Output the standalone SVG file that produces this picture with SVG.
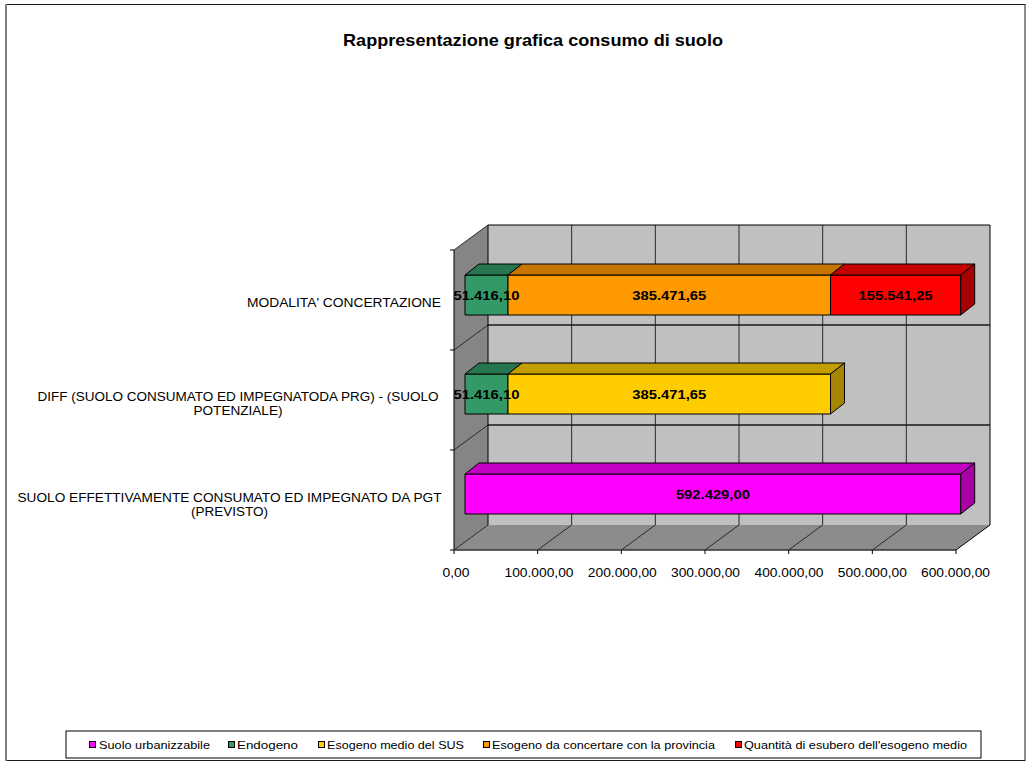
<svg xmlns="http://www.w3.org/2000/svg" width="1032" height="765" viewBox="0 0 1032 765">
<style>
  text { font-family: "Liberation Sans", Arial, sans-serif; fill: #000; }
  .title { font-size: 17px; font-weight: bold; }
  .cat { font-size: 12px; }
  .axis { font-size: 12px; text-anchor: middle; }
  .val { font-size: 13px; font-weight: bold; text-anchor: middle; }
  .leg { font-size: 11.5px; }
  .grid { stroke: #2a2a2a; stroke-width: 1; fill: none; }
  .catline { stroke: #1a1a1a; stroke-width: 1.6; fill: none; }
  .edge { stroke: #000; stroke-width: 1; fill: none; }
  .bar { stroke: #000; stroke-width: 1; stroke-linejoin: round; }
  .mk { stroke: #000; stroke-width: 1; }
</style>
<rect width="1032" height="765" fill="#fff"/>
<g id="frame">
  <rect x="6" y="4.5" width="1019" height="756" fill="#fff" stroke="#1a1a1a" stroke-width="1"/>
  <line x1="6" y1="4" x2="6" y2="761" stroke="#808080" stroke-width="2"/>
</g>
<text id="title" class="title" x="533" y="46" text-anchor="middle" textLength="380" lengthAdjust="spacingAndGlyphs">Rappresentazione grafica consumo di suolo</text>

<g id="walls">
  <rect x="488" y="225" width="502" height="300" fill="#c0c0c0"/>
  <polygon points="454,250 488,225 488,525 454,550" fill="#858585"/>
  <polygon points="454,550 488,525 990,525 956,550" fill="#8c8c8c"/>
</g>

<g id="connectors">
  <!-- back wall vertical gridlines -->
  <path class="grid" d="M571.67,225V525 M655.33,225V525 M739,225V525 M822.67,225V525 M906.33,225V525"/>
  <!-- floor gridlines -->
  <path class="grid" d="M537.67,550L571.67,525 M621.33,550L655.33,525 M705,550L739,525 M788.67,550L822.67,525 M872.33,550L906.33,525"/>
  <!-- category lines on back wall and side wall -->
  <path class="catline" d="M488,325H990 M488,425H990"/>
  <path class="grid" d="M454,350L488,325 M454,450L488,425 M454,250L488,225 M454,550L488,525"/>
  <!-- wall edges -->
  <path class="edge" d="M488,225H990V525 M454,250V550 M488,225V525"/>
  <path class="edge" d="M956,550L990,525"/>
  <path stroke="#333" stroke-width="1.5" fill="none" d="M454,550H956"/>
  <!-- ticks -->
  <path class="edge" d="M450,250H454 M450,350H454 M450,450H454 M450,550H454"/>
  <path class="edge" d="M454,550V554 M537.67,550V554 M621.33,550V554 M705,550V554 M788.67,550V554 M872.33,550V554 M956,550V554"/>
</g>

<g id="bar-modalita">
  <rect class="bar" x="465" y="275" width="43" height="40" fill="#339966"/>
  <polygon class="bar" points="465,275 508,275 522,264 479,264" fill="#277650"/>
  <rect class="bar" x="508" y="275" width="322.5" height="40" fill="#ff9900"/>
  <polygon class="bar" points="508,275 830.5,275 844.5,264 522,264" fill="#c47600"/>
  <rect class="bar" x="830.5" y="275" width="130.2" height="40" fill="#ff0000"/>
  <polygon class="bar" points="830.5,275 960.7,275 974.7,264 844.5,264" fill="#c40000"/>
  <polygon class="bar" points="960.7,275 974.7,264 974.7,304 960.7,315" fill="#a60000"/>
  <text class="val" x="486.5" y="299.6" textLength="66" lengthAdjust="spacingAndGlyphs">51.416,10</text>
  <text class="val" x="669.3" y="299.6" textLength="74" lengthAdjust="spacingAndGlyphs">385.471,65</text>
  <text class="val" x="895.6" y="299.6" textLength="74" lengthAdjust="spacingAndGlyphs">155.541,25</text>
</g>

<g id="bar-diff">
  <rect class="bar" x="465" y="374" width="43" height="40" fill="#339966"/>
  <polygon class="bar" points="465,374 508,374 522,363 479,363" fill="#277650"/>
  <rect class="bar" x="508" y="374" width="322.5" height="40" fill="#ffcc00"/>
  <polygon class="bar" points="508,374 830.5,374 844.5,363 522,363" fill="#c49d00"/>
  <polygon class="bar" points="830.5,374 844.5,363 844.5,403 830.5,414" fill="#a68500"/>
  <text class="val" x="486.5" y="398.6" textLength="66" lengthAdjust="spacingAndGlyphs">51.416,10</text>
  <text class="val" x="669.3" y="398.6" textLength="74" lengthAdjust="spacingAndGlyphs">385.471,65</text>
</g>

<g id="bar-suolo">
  <rect class="bar" x="465" y="474" width="495.7" height="40" fill="#ff00ff"/>
  <polygon class="bar" points="465,474 960.7,474 974.7,463 479,463" fill="#c400c4"/>
  <polygon class="bar" points="960.7,474 974.7,463 974.7,503 960.7,514" fill="#a600a6"/>
  <text class="val" x="712.9" y="498.6" textLength="74" lengthAdjust="spacingAndGlyphs">592.429,00</text>
</g>

<g id="category-labels">
  <text class="cat" x="441" y="307" text-anchor="end" textLength="194" lengthAdjust="spacingAndGlyphs">MODALITA' CONCERTAZIONE</text>
  <text class="cat" x="238" y="401" text-anchor="middle" textLength="401" lengthAdjust="spacingAndGlyphs">DIFF (SUOLO CONSUMATO ED IMPEGNATODA PRG) - (SUOLO</text>
  <text class="cat" x="238" y="414.5" text-anchor="middle" textLength="89" lengthAdjust="spacingAndGlyphs">POTENZIALE)</text>
  <text class="cat" x="229.5" y="501.5" text-anchor="middle" textLength="424" lengthAdjust="spacingAndGlyphs">SUOLO EFFETTIVAMENTE CONSUMATO ED IMPEGNATO DA PGT</text>
  <text class="cat" x="229.5" y="515.5" text-anchor="middle" textLength="77" lengthAdjust="spacingAndGlyphs">(PREVISTO)</text>
</g>

<g id="axis-labels">
  <text class="axis" x="456" y="577" textLength="27" lengthAdjust="spacingAndGlyphs">0,00</text>
  <text class="axis" x="539" y="577" textLength="69" lengthAdjust="spacingAndGlyphs">100.000,00</text>
  <text class="axis" x="622.3" y="577" textLength="69" lengthAdjust="spacingAndGlyphs">200.000,00</text>
  <text class="axis" x="705.5" y="577" textLength="69" lengthAdjust="spacingAndGlyphs">300.000,00</text>
  <text class="axis" x="789" y="577" textLength="69" lengthAdjust="spacingAndGlyphs">400.000,00</text>
  <text class="axis" x="872.3" y="577" textLength="69" lengthAdjust="spacingAndGlyphs">500.000,00</text>
  <text class="axis" x="955.5" y="577" textLength="69" lengthAdjust="spacingAndGlyphs">600.000,00</text>
</g>

<g id="legend">
  <rect x="66" y="731" width="915" height="27" fill="#fff" stroke="#000" stroke-width="1"/>
  <rect class="mk" x="89.5" y="741.5" width="6" height="6" fill="#ff00ff"/>
  <text class="leg" x="99" y="749" textLength="111" lengthAdjust="spacingAndGlyphs">Suolo urbanizzabile</text>
  <rect class="mk" x="228.5" y="741.5" width="6" height="6" fill="#339966"/>
  <text class="leg" x="237" y="749" textLength="61" lengthAdjust="spacingAndGlyphs">Endogeno</text>
  <rect class="mk" x="318.5" y="741.5" width="6" height="6" fill="#ffcc00"/>
  <text class="leg" x="327" y="749" textLength="137" lengthAdjust="spacingAndGlyphs">Esogeno medio del SUS</text>
  <rect class="mk" x="483.5" y="741.5" width="6" height="6" fill="#ff9900"/>
  <text class="leg" x="492" y="749" textLength="223" lengthAdjust="spacingAndGlyphs">Esogeno da concertare con la provincia</text>
  <rect class="mk" x="735.5" y="741.5" width="6" height="6" fill="#ff0000"/>
  <text class="leg" x="744" y="749" textLength="223" lengthAdjust="spacingAndGlyphs">Quantità di esubero dell'esogeno medio</text>
</g>
</svg>
